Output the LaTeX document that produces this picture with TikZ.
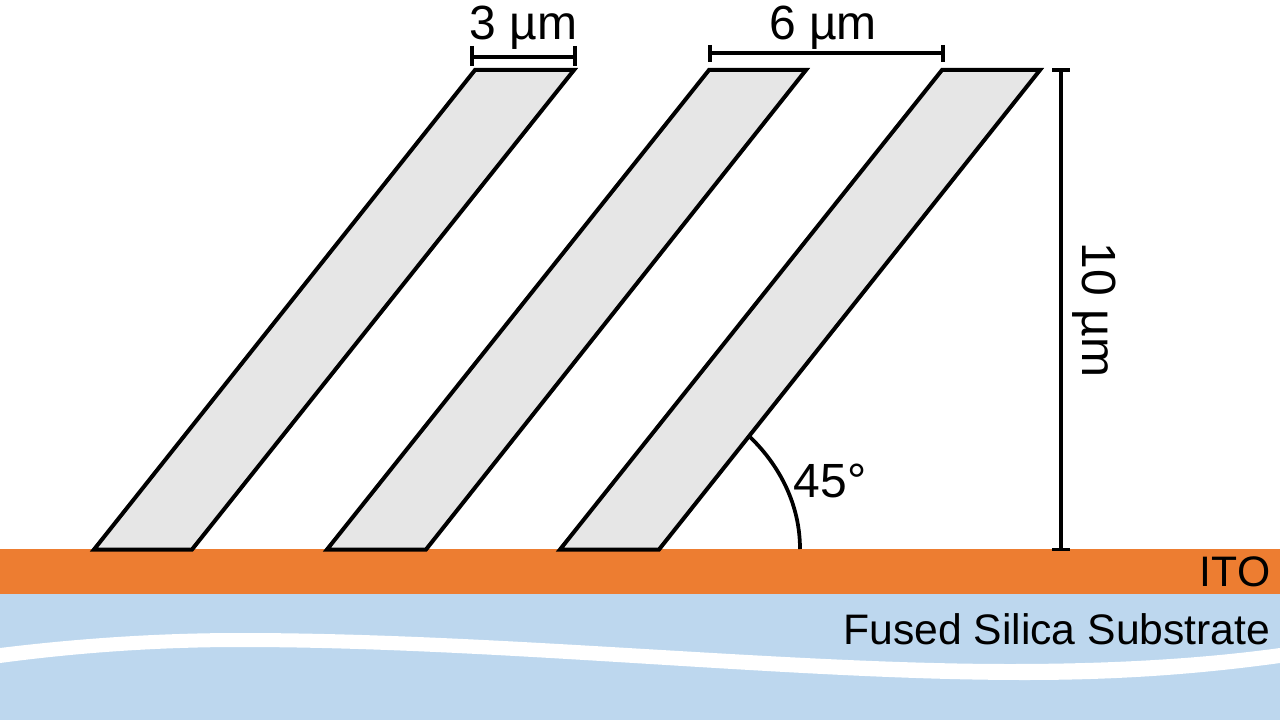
\documentclass[tikz,border=0pt]{standalone}
\usepackage{fontspec}
\setmainfont{Liberation Sans}
\definecolor{ito}{RGB}{237,125,49}
\definecolor{silica}{RGB}{189,215,238}
\definecolor{bar}{RGB}{230,230,230}
\tikzset{
  px/.style={x=0.75pt,y=-0.75pt},
  slab/.style={draw=black,fill=bar,line width=3pt,line join=miter},
  dim/.style={draw=black,line width=3.5pt},
  tick/.style={draw=black,line width=2.8pt},
  lbl/.style={font=\fontsize{32pt}{36pt}\selectfont,text=black,inner sep=0pt},
  biglbl/.style={font=\fontsize{36pt}{40pt}\selectfont,text=black,inner sep=0pt}
}
\begin{document}
\begin{tikzpicture}[px]
\useasboundingbox (0,0) rectangle (1280,720);
\fill[white] (0,0) rectangle (1280,720);
\fill[ito] (0,549) rectangle (1280,594);
\fill[silica] (0,594) rectangle (1280,720);
\fill[white] (0,648) .. controls (90,637) and (170,633) .. (240,633)
  .. controls (500,633) and (780,664) .. (1010,664)
  .. controls (1110,664) and (1200,659) .. (1280,648)
  -- (1280,663) .. controls (1200,674) and (1120,680) .. (1025,680)
  .. controls (790,680) and (500,647) .. (240,647)
  .. controls (170,647) and (90,651) .. (0,663) -- cycle;
\draw[slab] (94,549.5) -- (192,549.5) -- (574,70) -- (475,70) -- cycle;
\draw[slab] (327,549.5) -- (426,549.5) -- (806,70) -- (709,70) -- cycle;
\draw[slab] (560,549.5) -- (659,549.5) -- (1040,70) -- (942,70) -- cycle;
% 3 um
\coordinate (a1) at (472,57); \coordinate (a2) at (575,57);
\draw[dim] (a1) -- (a2);
\draw[tick] (472,46) -- (472,66); \draw[tick] (575,46) -- (575,66);
\node[biglbl] (n3) at (523.5,28) {3 µm};
% 6 um
\coordinate (b1) at (710,53); \coordinate (b2) at (943,53);
\draw[dim] (b1) -- (b2);
\draw[tick] (710,45) -- (710,62); \draw[tick] (943,45) -- (943,62);
\node[biglbl] (n6) at (823,28) {6 µm};
% 10 um
\coordinate (c1) at (1061,70); \coordinate (c2) at (1061,549.5);
\draw[dim] (c1) -- (c2);
\draw[tick] (1052,70) -- (1070,70); \draw[tick] (1052,549.5) -- (1070,549.5);
\node[biglbl,rotate=-90] (n10) at (1094,310) {10 µm};
% angle
\draw[draw=black,line width=2.8pt] (750,437) .. controls (780,466) and (800,505) .. (800,549);
\node[biglbl] (n45) at (830,481) {45°};
\node[lbl,anchor=east] (ito) at (1270.5,572) {ITO};
\node[lbl,anchor=east] (fs) at (1270.5,629) {Fused Silica Substrate};
\end{tikzpicture}
\end{document}
